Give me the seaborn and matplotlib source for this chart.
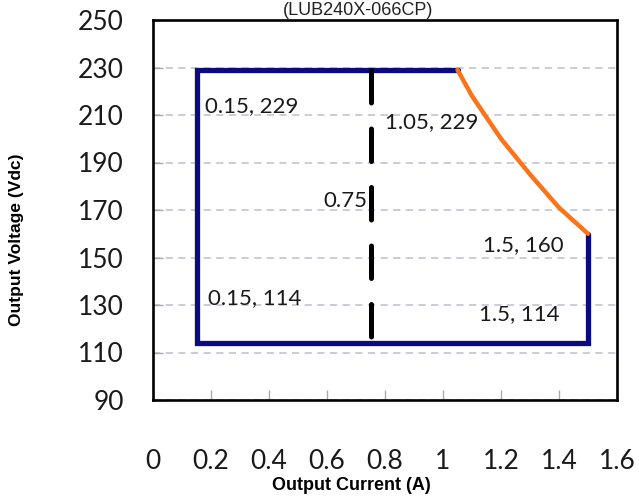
import matplotlib
matplotlib.use("Agg")
import matplotlib.pyplot as plt
import seaborn as sns
import pandas as pd

# ---- data ----
box_current = [1.05, 0.15, 0.15, 1.5, 1.5]
box_voltage = [229, 229, 114, 114, 160]
curve_current = [1.05, 1.1, 1.2, 1.3, 1.4, 1.5]
curve_voltage = [229, 218, 200, 185, 171, 160]
mid_current = [0.75, 0.75]
mid_voltage = [229, 114]
label_texts = ["0.15, 229", "1.05, 229", "0.75", "1.5, 160", "0.15, 114", "1.5, 114"]
label_x = [0.181, 0.80, 0.74, 1.137, 0.191, 1.123]
label_y = [213.6, 207.0, 173.8, 155.3, 132.7, 126.0]
label_ha = ["left", "left", "right", "left", "left", "left"]
x_ticks = [0, 0.2, 0.4, 0.6, 0.8, 1.0, 1.2, 1.4, 1.6]
x_tick_labels = ["0", "0.2", "0.4", "0.6", "0.8", "1", "1.2", "1.4", "1.6"]
y_ticks = [90, 110, 130, 150, 170, 190, 210, 230, 250]
title = "(LUB240X-066CP)"
x_label = "Output Current (A)"
y_label = "Output Voltage (Vdc)"

sns.set_theme(style="white")
plt.rcParams["font.family"] = ["Liberation Sans", "DejaVu Sans"]

fig = plt.figure(figsize=(6.39, 4.96), dpi=100)
ax = fig.add_axes([153 / 639, 1 - 400 / 496, 464 / 639, 380 / 496])

box_df = pd.DataFrame({"I": box_current, "V": box_voltage})
curve_df = pd.DataFrame({"I": curve_current, "V": curve_voltage})
mid_df = pd.DataFrame({"I": mid_current, "V": mid_voltage})

sns.lineplot(data=box_df, x="I", y="V", sort=False, estimator=None, ax=ax,
             color="#0b0b80", linewidth=3.8, solid_joinstyle="miter", zorder=3)
sns.lineplot(data=curve_df, x="I", y="V", sort=False, estimator=None, ax=ax,
             color="#fb7419", linewidth=3.2, zorder=4)
sns.lineplot(data=mid_df, x="I", y="V", sort=False, estimator=None, ax=ax,
             color="black", linewidth=3.6, dashes=False, zorder=3)
ax.lines[-1].set_dashes((6.5, 5.2))
ax.lines[-1].set_dash_capstyle("round")

for t, x, y, ha in zip(label_texts, label_x, label_y, label_ha):
    ax.text(x, y, t, ha=ha, va="center", fontsize=16, family=["Lato", "DejaVu Sans"],
            color="#1a1a1a", zorder=5)

ax.set_xlim(0, 1.6)
ax.set_ylim(90, 250)
ax.set_xticks(x_ticks)
ax.set_xticklabels(x_tick_labels)
ax.set_yticks(y_ticks)
ax.set_yticklabels([str(v) for v in y_ticks])

ax.yaxis.grid(True, linestyle=(0, (4, 3)), color="#c6c9d6", linewidth=1.3)
ax.xaxis.grid(False)
ax.set_axisbelow(True)

for s in ax.spines.values():
    s.set_color("black")
    s.set_linewidth(1.9)
    s.set_visible(True)

ax.tick_params(axis="x", direction="in", length=7, width=1, color="#aaaaaa",
               bottom=True, pad=35, labelsize=19, labelcolor="#1a1a1a")
ax.tick_params(axis="y", direction="in", length=7, width=1, color="#aaaaaa",
               left=True, pad=21, labelsize=19, labelcolor="#1a1a1a")
for lab in ax.get_xticklabels() + ax.get_yticklabels():
    lab.set_family(["Lato", "DejaVu Sans"])

ax.set_xlabel(x_label, fontsize=13, fontweight="bold", color="black")
ax.set_ylabel(y_label, fontsize=12.5, fontweight="bold", color="black")
ax.xaxis.set_label_coords((351 - 153) / 464, (400 - 485) / 380)
ax.yaxis.set_label_coords((17 - 153) / 464, (400 - 240) / 380)
ax.xaxis.label.set_va("center")
ax.yaxis.label.set_va("center")

fig.text(358 / 639, 1 - 15 / 496, title, ha="center", va="baseline",
         fontsize=13, color="#222222")

fig.savefig("out.png", dpi=100, facecolor="white")
